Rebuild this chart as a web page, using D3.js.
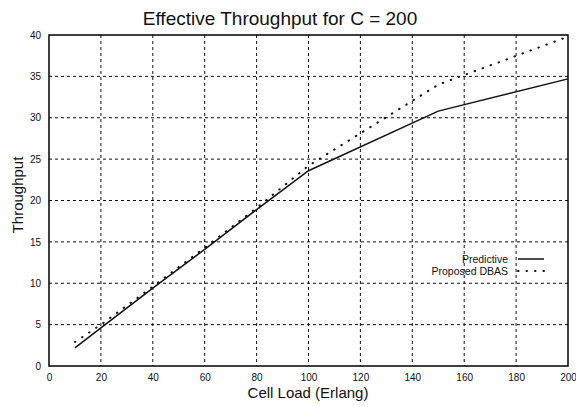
<!DOCTYPE html>
<html>
<head>
<meta charset="utf-8">
<script src="https://cdn.jsdelivr.net/npm/d3@7"></script>
<style>
  body { margin: 0; background: #fff; }
  svg { font-family: "Liberation Sans", Arial, sans-serif; }
</style>
</head>
<body>
<svg id="chart" width="576" height="407"></svg>
<script>
// data
var xTicks = [0, 20, 40, 60, 80, 100, 120, 140, 160, 180, 200];
var yTicks = [0, 5, 10, 15, 20, 25, 30, 35, 40];
var load = [10, 20, 40, 60, 80, 100, 150, 200];
var predictive = [2.2, 4.6, 9.4, 14.1, 18.9, 23.6, 30.8, 34.7];
var dbas = [2.9, 5.0, 9.6, 14.3, 19.1, 24.2, 34.0, 39.8];
var seriesNames = ['Predictive', 'Proposed DBAS'];

// plot box (window.top is reserved, so use other names)
var plotLeft = 49, plotRight = 568, plotTop = 35, plotBottom = 366;

var svg = d3.select('#chart');

var x = d3.scaleLinear().domain([0, 200]).range([plotLeft, plotRight]);
var y = d3.scaleLinear().domain([0, 40]).range([plotBottom, plotTop]);

// grid
svg.append('g')
  .selectAll('line')
  .data(xTicks.slice(1, -1))
  .enter()
  .append('line')
  .attr('x1', function (d) { return x(d); })
  .attr('x2', function (d) { return x(d); })
  .attr('y1', plotTop)
  .attr('y2', plotBottom)
  .attr('stroke', '#111')
  .attr('stroke-width', 1)
  .attr('stroke-dasharray', '3,3');

svg.append('g')
  .selectAll('line')
  .data(yTicks.slice(1, -1))
  .enter()
  .append('line')
  .attr('x1', plotLeft)
  .attr('x2', plotRight)
  .attr('y1', function (d) { return y(d); })
  .attr('y2', function (d) { return y(d); })
  .attr('stroke', '#111')
  .attr('stroke-width', 1)
  .attr('stroke-dasharray', '3,3');

// axes
var xAxis = d3.axisBottom(x).tickValues(xTicks).tickSize(0).tickPadding(8);
var yAxis = d3.axisLeft(y).tickValues(yTicks).tickSize(0).tickPadding(8);

svg.append('g')
  .attr('transform', 'translate(0,' + plotBottom + ')')
  .call(xAxis)
  .call(function (g) { g.select('.domain').remove(); })
  .selectAll('text')
  .attr('font-size', 10)
  .attr('font-family', '"Liberation Sans", Arial, sans-serif')
  .attr('fill', '#111');

svg.append('g')
  .attr('transform', 'translate(' + plotLeft + ',0)')
  .call(yAxis)
  .call(function (g) { g.select('.domain').remove(); })
  .selectAll('text')
  .attr('font-size', 10)
  .attr('font-family', '"Liberation Sans", Arial, sans-serif')
  .attr('fill', '#111');

// frame
svg.append('rect')
  .attr('x', plotLeft)
  .attr('y', plotTop)
  .attr('width', plotRight - plotLeft)
  .attr('height', plotBottom - plotTop)
  .attr('fill', 'none')
  .attr('stroke', '#000')
  .attr('stroke-width', 1.5);

// series
var line = d3.line()
  .x(function (d) { return x(d[0]); })
  .y(function (d) { return y(d[1]); });

svg.append('path')
  .datum(d3.zip(load, predictive))
  .attr('d', line)
  .attr('fill', 'none')
  .attr('stroke', '#111')
  .attr('stroke-width', 1.5);

svg.append('path')
  .datum(d3.zip(load, dbas))
  .attr('d', line)
  .attr('fill', 'none')
  .attr('stroke', '#111')
  .attr('stroke-width', 2)
  .attr('stroke-linecap', 'round')
  .attr('stroke-dasharray', '0.5,8');

// legend
var legend = svg.append('g').attr('transform', 'translate(508,263)');
legend.selectAll('text')
  .data(seriesNames)
  .enter()
  .append('text')
  .attr('x', 0)
  .attr('y', function (d, i) { return i * 12; })
  .attr('text-anchor', 'end')
  .attr('font-size', 10.5)
  .attr('fill', '#111')
  .text(function (d) { return d; });

legend.append('line')
  .attr('x1', 10).attr('x2', 36)
  .attr('y1', -4).attr('y2', -4)
  .attr('stroke', '#111')
  .attr('stroke-width', 1.5);

legend.append('line')
  .attr('x1', 10).attr('x2', 36)
  .attr('y1', 8).attr('y2', 8)
  .attr('stroke', '#111')
  .attr('stroke-width', 2)
  .attr('stroke-linecap', 'round')
  .attr('stroke-dasharray', '0.5,8');

// titles
svg.append('text')
  .attr('x', 280)
  .attr('y', 25)
  .attr('text-anchor', 'middle')
  .attr('font-size', 19)
  .attr('fill', '#111')
  .text('Effective Throughput for C = 200');

svg.append('text')
  .attr('x', 308)
  .attr('y', 398)
  .attr('text-anchor', 'middle')
  .attr('font-size', 15)
  .attr('fill', '#111')
  .text('Cell Load (Erlang)');

svg.append('text')
  .attr('transform', 'translate(23,195) rotate(-90)')
  .attr('text-anchor', 'middle')
  .attr('font-size', 15)
  .attr('fill', '#111')
  .text('Throughput');
</script>
</body>
</html>
